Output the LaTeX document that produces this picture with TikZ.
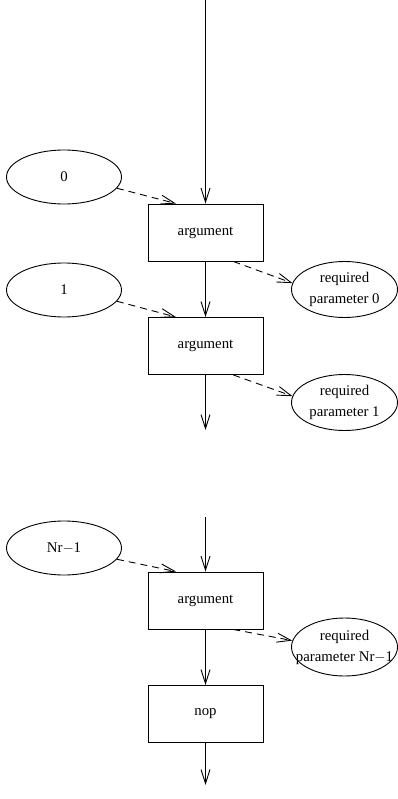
\documentclass[tikz,border=0pt]{standalone}
\usepackage{fontspec}
\setmainfont{Liberation Serif}
\usetikzlibrary{arrows.meta,calc,shapes.geometric}
\begin{document}
\begin{tikzpicture}[x=1pt,y=-1pt,
  every node/.style={font=\fontsize{14.8}{21}\selectfont},
  stepbox/.style={draw,line width=0.9pt,minimum width=115pt,minimum height=57pt,inner sep=0pt},
  valnode/.style={draw,ellipse,line width=0.9pt,minimum width=115pt,minimum height=54pt,inner sep=0pt},
  parnode/.style={draw,ellipse,line width=0.9pt,minimum width=106pt,minimum height=56pt,inner sep=0pt,align=center},
  flow/.style={line width=0.9pt,-{Straight Barb[length=14pt,width=9pt,line width=0.9pt]}},
  dep/.style={flow,dash pattern=on 7pt off 5pt}]
\useasboundingbox (0,0) rectangle (397,799);

% first argument
\node[valnode] (e0) at (64,177) {0};
\node[stepbox] (b1) at (205.5,232.5) {argument};
\node[parnode] (p0) at (344.5,289.5) {required\\parameter 0};

% second argument
\node[valnode] (e1) at (64,290) {1};
\node[stepbox] (b2) at (205.5,346) {argument};
\node[parnode] (p1) at (344.5,402.5) {required\\parameter 1};

% last argument
\node[valnode] (e2) at (64,548) {Nr$-$1};
\node[stepbox] (b3) at (205.5,600.5) {argument};
\node[parnode,minimum height=58pt] (p2) at (344.5,647) {required\\\makebox[0pt][c]{parameter Nr$-$1}};

\node[stepbox] (nop) at (205.5,714) {nop};

% loose ends of the control flow
\coordinate (in0) at (205.5,0);
\coordinate (out1) at (205.5,430);
\coordinate (in2) at (205.5,517);
\coordinate (out3) at (205.5,785);

% control flow
\draw[flow] (in0) -- (b1);
\draw[flow] (b1) -- (b2);
\draw[flow] (b2) -- (out1);
\draw[flow] (in2) -- (b3);
\draw[flow] (b3) -- (nop);
\draw[flow] (nop) -- (out3);

% values into arguments
\draw[dep] (e0.-12) -- ($(b1.north west)!0.245!(b1.north east)$);
\draw[dep] (e1.-12) -- ($(b2.north west)!0.245!(b2.north east)$);
\draw[dep] (e2.-12) -- ($(b3.north west)!0.245!(b3.north east)$);

% arguments into required parameters
\draw[dep] ($(b1.south west)!0.74!(b1.south east)$) -- (p0.173);
\draw[dep] ($(b2.south west)!0.74!(b2.south east)$) -- (p1.173);
\draw[dep] ($(b3.south west)!0.74!(b3.south east)$) -- (p2.173);
\end{tikzpicture}
\end{document}
